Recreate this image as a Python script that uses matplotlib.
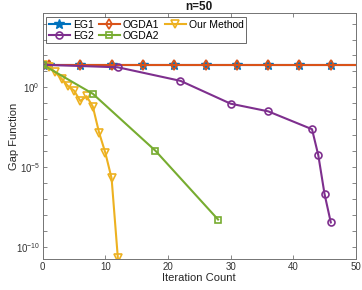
import matplotlib
matplotlib.use('Agg')
import matplotlib.pyplot as plt
import numpy as np

plt.rcParams['font.family'] = ['Liberation Sans', 'DejaVu Sans']
plt.rcParams['mathtext.fontset'] = 'custom'
plt.rcParams['mathtext.rm'] = 'Liberation Sans'
plt.rcParams['mathtext.it'] = 'Liberation Sans'

# data (y values as log10 of the gap)
eg1_x = [0, 1, 6, 11, 16, 21, 26, 31, 36, 41, 46, 50]
eg1_log = [1.42, 1.42, 1.42, 1.42, 1.42, 1.42, 1.42, 1.42, 1.42, 1.42, 1.42, 1.42]
ogda1_x = [0, 1, 6, 11, 16, 21, 26, 31, 36, 41, 46, 50]
ogda1_log = [1.42, 1.42, 1.42, 1.42, 1.42, 1.42, 1.42, 1.42, 1.42, 1.42, 1.42, 1.42]
eg2_x = [0, 12, 22, 30, 36, 43, 44, 45, 46]
eg2_log = [1.42, 1.26, 0.41, -1.02, -1.50, -2.62, -4.24, -6.68, -8.46]
ogda2_x = [0, 8, 18, 28]
ogda2_log = [1.42, -0.40, -3.97, -8.28]
ours_x = [0, 1, 2, 3, 4, 5, 6, 7, 8, 9, 10, 11, 12]
ours_log = [1.42, 1.3, 0.95, 0.55, 0.1, -0.2, -0.85, -0.55, -1.2, -2.83, -4.1, -5.7, -10.7]

blue = '#0072BD'
orange = '#D95319'
yellow = '#EDB120'
purple = '#7E2F8E'
green = '#77AC30'

fig = plt.figure(figsize=(3.62, 2.90), dpi=100)
ax = fig.add_axes([0.118, 0.107, 0.865, 0.847])

lw = 1.5
h_eg1, = ax.semilogy(eg1_x, 10.0 ** np.array(eg1_log), color=blue, lw=lw, marker='*',
                     ms=7, markevery=list(range(1, 11)), label='EG1')
h_ogda1, = ax.semilogy(ogda1_x, 10.0 ** np.array(ogda1_log), color=orange, lw=lw, marker='d',
                       ms=5, mfc='none', mew=1.2, markevery=list(range(1, 11)), label='OGDA1')
h_ours, = ax.semilogy(ours_x, 10.0 ** np.array(ours_log), color=yellow, lw=lw, marker='v',
                      ms=5.5, mfc='none', mew=1.2, label='Our Method')
h_eg2, = ax.semilogy(eg2_x, 10.0 ** np.array(eg2_log), color=purple, lw=lw, marker='o',
                     ms=5, mfc='none', mew=1.2, label='EG2')
h_ogda2, = ax.semilogy(ogda2_x, 10.0 ** np.array(ogda2_log), color=green, lw=lw, marker='s',
                       ms=4.5, mfc='none', mew=1.2, label='OGDA2')

ax.set_xlim(0, 50)
ax.set_ylim(10 ** -10.75, 10 ** 4.64)
ax.set_xticks([0, 10, 20, 30, 40, 50])
decades = np.arange(-10, 5)
ax.set_yticks(10.0 ** decades)
ax.set_yticklabels(['$10^{%d}$' % d if d % 5 == 0 else '' for d in decades])
ax.yaxis.set_minor_locator(matplotlib.ticker.NullLocator())

for s in ax.spines.values():
    s.set_color('0.45')
    s.set_linewidth(0.7)
ax.tick_params(which='both', direction='in', length=3, width=0.6, color='0.45',
               labelsize=7, labelcolor='0.2', top=True, right=True, pad=2)

ax.set_xlabel('Iteration Count', fontsize=8, color='0.15', labelpad=1)
ax.set_ylabel('Gap Function', fontsize=8, color='0.15')
ax.yaxis.set_label_coords(-0.075, 0.5)
ax.set_title('n=50', fontsize=8.5, fontweight='bold', color='0.1', pad=2)

leg = ax.legend(handles=[h_eg1, h_eg2, h_ogda1, h_ogda2, h_ours], ncol=3, loc='upper left',
                fontsize=7.5, frameon=True, fancybox=False, edgecolor='0.15',
                handlelength=2.0, handletextpad=0.3, columnspacing=0.5,
                labelspacing=0.1, borderpad=0.25, borderaxespad=0.35)
leg.get_frame().set_linewidth(0.6)

fig.savefig('out.png', dpi=100)
